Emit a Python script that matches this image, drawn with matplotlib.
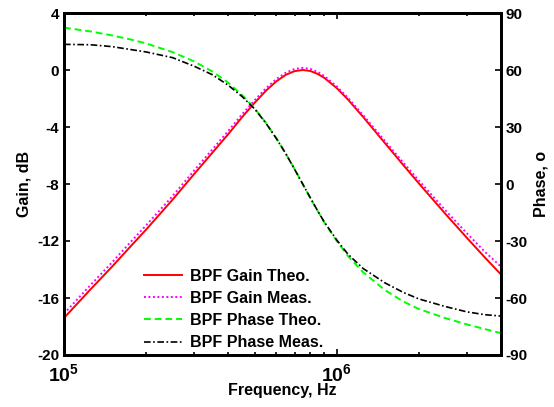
import numpy as np
import matplotlib
matplotlib.use("Agg")
import matplotlib.pyplot as plt
from matplotlib.ticker import FixedLocator, FuncFormatter, LogLocator, NullFormatter

# ==============================
# DATA
# ==============================

freq_hz = [1e5, 1.25e5, 1.5e5, 1.75e5, 2e5, 2.5e5, 3e5, 3.5e5, 4e5, 4.5e5,
           5e5, 5.5e5, 6e5, 6.5e5, 7e5, 7.5e5, 8e5, 8.5e5, 9e5, 1e6,
           1.1e6, 1.25e6, 1.5e6, 1.75e6, 2e6, 2.5e6, 3e6, 3.5e6, 4e6]

gain_theo = [-17.4, -15.4, -13.8, -12.4, -11.2, -9.1, -7.3, -5.8, -4.5, -3.3,
             -2.3, -1.45, -0.8, -0.34, -0.08, 0.0, -0.07, -0.27, -0.55, -1.27,
             -2.08, -3.3, -5.12, -6.65, -7.96, -10.09, -11.78, -13.18, -14.35]

gain_meas = [-17.1, -15.1, -13.5, -12.1, -10.9, -8.85, -7.05, -5.57, -4.28, -3.1,
             -2.12, -1.28, -0.64, -0.19, 0.07, 0.15, 0.08, -0.13, -0.42, -1.15,
             -1.96, -3.17, -4.97, -6.48, -7.76, -9.84, -11.46, -12.78, -13.8]

phase_theo = [82.3, 80.3, 78.2, 76.1, 74.0, 69.4, 64.5, 59.2, 53.3, 46.8,
              39.8, 32.2, 24.2, 16.0, 7.9, 0.0, -7.4, -14.1, -20.2, -30.0,
              -38.0, -46.5, -55.8, -61.8, -65.8, -70.6, -73.9, -76.4, -78.5]

phase_meas = [73.5, 73.3, 72.3, 70.8, 69.5, 66.5, 62.0, 57.5, 52.0, 46.0,
              39.5, 32.0, 24.0, 16.0, 7.8, 0.0, -7.3, -14.0, -20.0, -29.5,
              -37.0, -44.5, -52.0, -57.0, -60.5, -64.5, -67.3, -68.8, -69.5]

gain_ticks = [-20, -16, -12, -8, -4, 0, 4]
phase_ticks = [-90, -60, -30, 0, 30, 60, 90]


# ==============================
# STYLE
# ==============================

plt.rcParams["font.family"] = ["Liberation Sans", "DejaVu Sans"]
plt.rcParams["font.weight"] = "bold"
plt.rcParams["axes.unicode_minus"] = False
plt.rcParams["mathtext.fontset"] = "custom"
plt.rcParams["mathtext.rm"] = "Liberation Sans:bold"
plt.rcParams["mathtext.bf"] = "Liberation Sans:bold"
plt.rcParams["mathtext.it"] = "Liberation Sans:bold"

FS = 11


def style_axis(ax):
    for sp in ax.spines.values():
        sp.set_linewidth(2.0)
    ax.tick_params(which="both", direction="in", width=1.2, labelsize=FS)
    ax.tick_params(which="major", length=4)
    ax.tick_params(which="minor", length=2.5)


# ==============================
# PLOT
# ==============================

fig = plt.figure(figsize=(5.54, 4.07), dpi=100)
ax = fig.add_axes([64 / 554, 1 - 355 / 407, (501 - 64) / 554, (355 - 13) / 407])
ax2 = ax.twinx()

l1, = ax.plot(freq_hz, gain_theo, color="#ff0000", lw=1.4, label="BPF Gain Theo.")
l2, = ax.plot(freq_hz, gain_meas, color="#ff00ff", lw=1.4, ls=(0, (1, 1.3)),
              label="BPF Gain Meas.")
l3, = ax2.plot(freq_hz, phase_theo, color="#00ff00", lw=1.4, ls=(0, (3.5, 2)),
               label="BPF Phase Theo.")
l4, = ax2.plot(freq_hz, phase_meas, color="black", lw=1.2, ls=(0, (4, 1.5, 1, 1.5)),
               label="BPF Phase Meas.")

ax.set_xscale("log")
ax.set_xlim(1e5, 4e6)
ax.set_ylim(-20, 4)
ax2.set_ylim(-90, 90)

ax.yaxis.set_major_locator(FixedLocator(gain_ticks))
ax2.yaxis.set_major_locator(FixedLocator(phase_ticks))
ax.xaxis.set_major_locator(LogLocator(base=10))
ax.xaxis.set_minor_locator(LogLocator(base=10, subs=np.arange(2, 10)))
ax.xaxis.set_minor_formatter(NullFormatter())
ax.xaxis.set_major_formatter(
    FuncFormatter(lambda v, p: r"$\mathbf{10^{%d}}$" % round(np.log10(v))))

style_axis(ax)
style_axis(ax2)
ax.tick_params(axis="x", which="both", top=True)
ax.tick_params(axis="y", right=False)
ax.tick_params(axis="x", pad=6, labelsize=FS + 3)

ax.set_xlabel("Frequency, Hz", fontsize=FS + 0.5, fontweight="bold", va="center")
ax.xaxis.set_label_coords(0.5, -0.105)
ax.set_ylabel("Gain, dB", fontsize=FS + 0.5, fontweight="bold", labelpad=4)
ax2.set_ylabel("Phase, o", fontsize=FS + 0.5, fontweight="bold", labelpad=4)

leg = ax2.legend(handles=[l1, l2, l3, l4], loc="lower left",
                 bbox_to_anchor=(0.15, -0.028), frameon=False,
                 fontsize=FS + 0.5, handlelength=2.4, handletextpad=0.5,
                 labelspacing=0.45)
for t in leg.get_texts():
    t.set_fontweight("bold")

fig.savefig("out.png", dpi=100)
